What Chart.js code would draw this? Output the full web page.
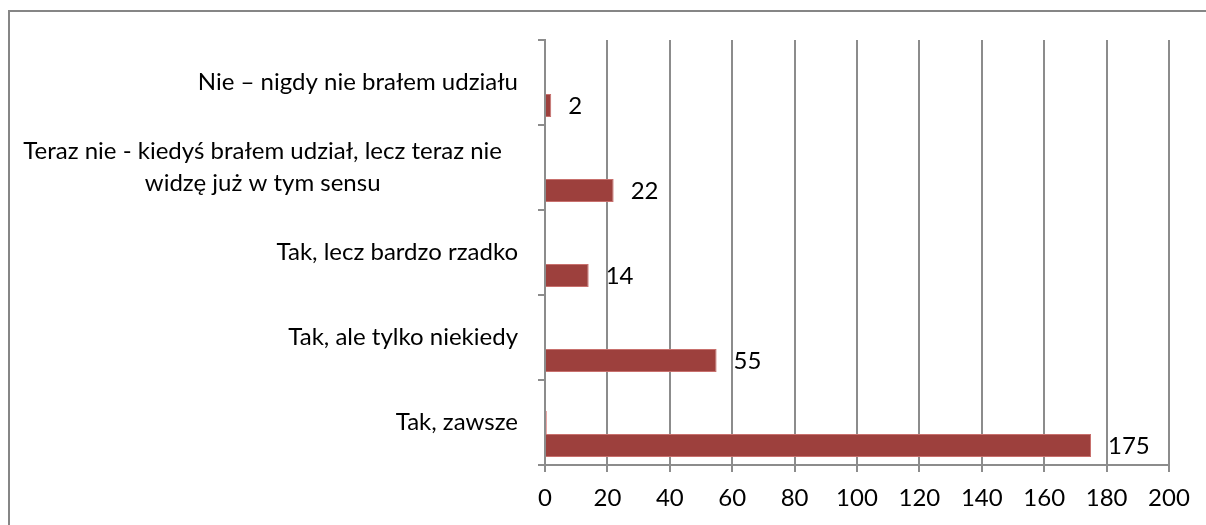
<!DOCTYPE html>
<html>
<head>
<meta charset="utf-8">
<script src="https://cdn.jsdelivr.net/npm/chart.js@4"></script>
<style>
  html, body { margin: 0; padding: 0; background: #fff; width: 1206px; height: 525px; overflow: hidden; }
  #frame { position: absolute; left: 8px; top: 10px; width: 1210px; height: 530px;
           border-left: 2px solid #868686; border-top: 2px solid #868686; }
  #wrap { position: absolute; left: 0; top: 0; width: 1206px; height: 525px; }
</style>
</head>
<body>
<div id="frame"></div>
<div id="wrap"><canvas id="c" width="1206" height="525"></canvas></div>
<script>
// Categories, top to bottom
const categories = [
  "Nie – nigdy nie brałem udziału",
  ["Teraz nie - kiedyś brałem udział, lecz teraz nie", "widzę już w tym sensu"],
  "Tak, lecz bardzo rzadko",
  "Tak, ale tylko niekiedy",
  "Tak, zawsze"
];
// Main series (labelled values)
const mainValues = [2, 22, 14, 55, 175];
// Secondary series (tiny sliver visible only for "Tak, zawsze")
const secondValues = [0, 0, 0, 0, 0.5];
// Third series (empty)
const thirdValues = [0, 0, 0, 0, 0];
// X axis ticks
const xMin = 0, xMax = 200, xStep = 20;

const FONT = "Lato, 'Open Sans', sans-serif";

const labelsPlugin = {
  id: 'customLabels',
  afterDatasetsDraw(chart) {
    const ctx = chart.ctx;
    const y = chart.scales.y;
    ctx.save();
    ctx.fillStyle = '#000';
    ctx.font = '24px ' + FONT;
    ctx.textBaseline = 'middle';
    // category labels
    const right = chart.chartArea.left - 27;
    categories.forEach((lab, i) => {
      const cy = y.getPixelForValue(i);
      if (Array.isArray(lab)) {
        const lh = 32;
        const widths = lab.map(l => ctx.measureText(l).width);
        const maxW = Math.max(...widths);
        const cx = right - 16 - maxW / 2;
        ctx.textAlign = 'center';
        lab.forEach((l, k) => {
          ctx.fillText(l, cx, cy + (k - (lab.length - 1) / 2) * lh);
        });
      } else {
        ctx.textAlign = 'right';
        ctx.fillText(lab, right, cy);
      }
    });
    // value labels for main dataset
    const meta = chart.getDatasetMeta(2);
    ctx.textAlign = 'left';
    meta.data.forEach((bar, i) => {
      ctx.fillText(String(mainValues[i]), bar.x + 17, bar.y + 1);
    });
    ctx.restore();
  }
};

new Chart(document.getElementById('c'), {
  type: 'bar',
  data: {
    labels: categories,
    datasets: [
      { label: 'S3', data: thirdValues, backgroundColor: '#9bbb59', borderWidth: 0 },
      { label: 'S2', data: secondValues, backgroundColor: '#d9605d', borderWidth: 0 },
      { label: 'S1', data: mainValues, backgroundColor: '#9d403d', borderColor: '#c8706d', borderWidth: 1 }
    ]
  },
  options: {
    indexAxis: 'y',
    responsive: false,
    animation: false,
    devicePixelRatio: 1,
    categoryPercentage: 0.81,
    barPercentage: 1.0,
    layout: { padding: { top: 40, right: 37, left: 0, bottom: 0 } },
    plugins: { legend: { display: false }, tooltip: { enabled: false } },
    scales: {
      x: {
        type: 'linear',
        min: xMin, max: xMax,
        ticks: { stepSize: xStep, color: '#000', font: { family: FONT, size: 24 }, padding: 12 },
        grid: { color: '#8c8c8c', lineWidth: 2, tickLength: 7, drawTicks: true },
        border: { color: '#8c8c8c', width: 2 },
        afterFit(s) { s.height = 60; }
      },
      y: {
        type: 'category',
        ticks: { display: false },
        grid: { drawOnChartArea: false, drawTicks: true, tickLength: 7, offset: true, color: '#8c8c8c', lineWidth: 2 },
        border: { color: '#8c8c8c', width: 2 },
        afterFit(s) { s.width = 545; }
      }
    }
  },
  plugins: [labelsPlugin]
});
</script>
</body>
</html>
